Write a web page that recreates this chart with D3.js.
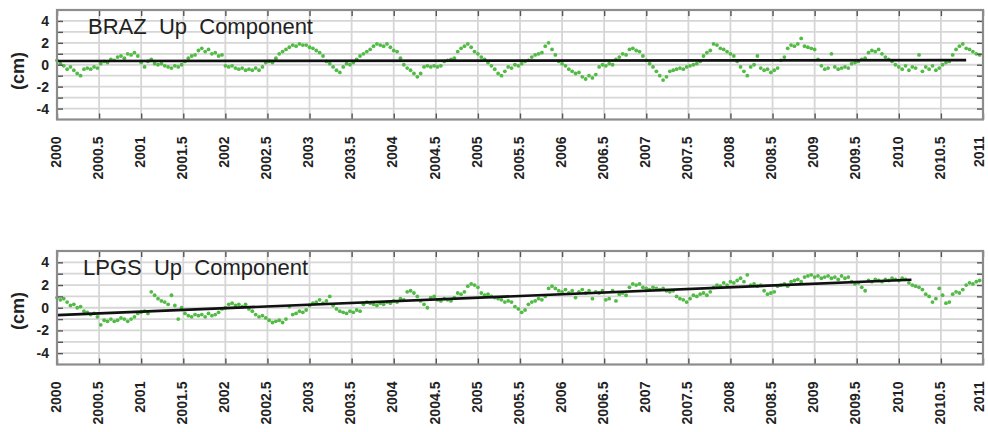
<!DOCTYPE html>
<html>
<head>
<meta charset="utf-8">
<script src="https://cdn.jsdelivr.net/npm/d3@7/dist/d3.min.js"></script>
<style>
  body { margin: 0; background: #fff; }
  svg { display: block; }
</style>
</head>
<body>
<svg id="chart" width="988" height="432"></svg>
<script>
// Epoch tick labels along the time axis (years)
const epochTicks = [2000, 2000.5, 2001, 2001.5, 2002, 2002.5, 2003, 2003.5, 2004, 2004.5,
  2005, 2005.5, 2006, 2006.5, 2007, 2007.5, 2008, 2008.5, 2009, 2009.5, 2010, 2010.5, 2011];
const epochLabels = ["2000", "2000.5", "2001", "2001.5", "2002", "2002.5", "2003", "2003.5",
  "2004", "2004.5", "2005", "2005.5", "2006", "2006.5", "2007", "2007.5", "2008", "2008.5",
  "2009", "2009.5", "2010", "2010.5", "2011"];
// Vertical axis (cm): labelled ticks and minor ticks
const cmLabelTicks = [4, 2, 0, -2, -4];
const cmMinorTicks = [-4, -3, -2, -1, 0, 1, 2, 3, 4];

// Daily solutions resampled every 0.04 yr starting at 2000.0 (25 samples per year)
const sampleStart = 2000;
const sampleStep = 0.04;

// BRAZ up component (cm)
const brazUp = [
  0.4, 0.1, -0.1, -0.4, -0.2, -0.5, -0.8, -1.0, -0.4, -0.3, -0.4, -0.2, -0.3, 0.1, 0.3, 0.2, 0.5, 0.4, 0.7, 0.8, 0.6, 1.0, 0.9, 1.1, 0.8,
  0.2, -0.2, 0.3, 0.5, 0.1, 0.0, 0.1, -0.1, -0.2, -0.3, -0.1, -0.2, 0.0, 0.3, 0.6, 0.8, 0.9, 1.3, 1.5, 1.2, 1.4, 1.0, 1.1, 0.8, 0.9,
  -0.1, -0.2, -0.1, -0.3, -0.4, -0.3, -0.5, -0.4, -0.5, -0.3, -0.5, -0.2, 0.2, 0.3, 0.2, 0.6, 1.0, 1.2, 1.4, 1.6, 1.8, 1.7, 1.9, 1.8, 1.8,
  1.6, 1.5, 1.3, 1.1, 0.8, 0.3, 0.1, -0.2, -0.5, -0.7, -0.2, 0.1, 0.0, 0.2, 0.5, 0.8, 1.0, 1.2, 1.4, 1.7, 1.9, 1.8, 1.7, 1.9, 1.6,
  1.3, 1.2, 0.6, 0.0, -0.3, -0.5, -0.8, -1.1, -0.8, -0.2, -0.1, -0.2, -0.1, -0.2, -0.1, 0.3, 0.4, 0.5, 0.6, 1.2, 1.5, 1.7, 1.9, 1.6, 1.2,
  1.0, 0.7, 0.5, 0.2, -0.1, -0.4, -0.8, -1.0, -0.6, -0.2, -0.3, 0.0, -0.1, 0.1, 0.3, 0.4, 0.7, 0.9, 1.0, 1.1, 1.7, 2.0, 1.4, 0.9, 0.3,
  0.1, -0.1, -0.4, -0.6, -0.8, -0.7, -1.1, -1.3, -1.0, -1.2, -0.9, -0.2, 0.0, -0.1, 0.1, 0.0, 0.5, 0.7, 1.0, 0.9, 1.4, 1.5, 1.3, 1.2, 0.8,
  0.4, 0.1, -0.2, -0.6, -1.0, -1.4, -1.1, -0.6, -0.5, -0.4, -0.3, -0.4, -0.2, -0.1, 0.0, 0.1, 0.3, 0.8, 1.1, 1.3, 1.9, 1.8, 1.5, 1.4, 1.2,
  1.0, 0.8, 0.3, -0.2, -0.6, -1.0, -0.2, 0.0, 0.8, -0.3, -0.5, -0.4, -0.7, -0.5, -0.3, 0.4, 0.7, 1.5, 1.8, 1.7, 1.9, 2.4, 1.7, 1.6, 1.5,
  1.4, 0.5, -0.1, -0.4, -0.3, 1.0, -0.2, -0.4, -0.3, -0.2, -0.3, 0.1, 0.2, 0.3, 0.5, 0.6, 1.1, 1.3, 1.2, 1.4, 1.0, 0.7, 0.5, 0.3, 0.0,
  -0.2, -0.4, -0.1, -0.5, -0.2, -0.3, 0.9, -0.6, -0.2, -0.4, -0.1, -0.5, -0.3, 0.0, 0.2, 0.3, 0.9, 1.4, 1.7, 1.9, 1.5, 1.4, 1.2, 1.0, 0.9
];

// LPGS up component (cm)
const lpgsUp = [
  0.9, 0.7, 0.8, 0.5, 0.2, 0.3, 0.0, 0.1, -0.3, -0.4, -0.6, -0.5, -0.8, -1.5, -1.1, -1.2, -1.0, -1.2, -1.1, -0.9, -1.0, -1.2, -1.0, -0.8, -0.5,
  -0.4, -0.3, -0.5, 1.4, 1.1, 0.8, 0.6, 0.5, 0.3, 1.1, 0.2, -1.0, 0.0, -0.5, -0.7, -0.8, -0.6, -0.7, -0.6, -0.8, -0.5, -0.7, -0.6, -0.4, -0.1,
  0.0, 0.3, 0.4, 0.2, 0.3, 0.1, 0.3, -0.1, -0.3, -0.6, -0.8, -0.7, -0.9, -1.1, -1.3, -1.2, -1.1, -1.3, -1.0, 0.1, -0.6, -0.5, -0.3, -0.4, -0.2,
  0.2, 0.4, 0.5, 0.7, 0.4, 0.6, 1.0, 0.2, -0.1, -0.3, -0.4, -0.5, -0.3, -0.4, -0.2, -0.3, 0.3, 0.5, 0.4, 0.3, 0.2, 0.4, 0.3, 0.5, 0.4,
  0.6, 0.5, 0.8, 0.7, 1.4, 1.5, 1.3, 1.0, 0.6, 0.3, 0.0, 0.9, 1.0, 0.7, 0.6, 0.8, 0.7, 0.6, 0.9, 1.3, 1.2, 1.4, 1.9, 2.1, 2.0,
  1.8, 1.3, 1.1, 1.2, 1.0, 0.9, 0.8, 0.7, 0.5, 0.6, 0.5, 0.1, -0.1, -0.4, -0.2, 0.3, 0.5, 0.6, 0.8, 0.7, 1.0, 1.7, 1.9, 1.7, 1.5,
  1.4, 1.6, 1.3, 1.5, 0.9, 1.4, 1.6, 1.3, 1.5, 0.8, 1.4, 1.3, 1.5, 0.7, 0.8, 1.5, 0.6, 1.2, 1.3, 1.1, 1.8, 2.1, 2.0, 2.1, 1.8,
  1.7, 1.6, 1.8, 1.7, 1.6, 1.7, 1.5, 1.4, 1.5, 1.0, 0.8, 0.7, 0.5, 0.8, 1.1, 1.0, 1.2, 1.3, 1.1, 1.4, 1.8, 2.0, 1.9, 2.2, 2.0,
  2.3, 2.2, 2.4, 2.6, 2.3, 2.9, 2.0, 2.1, 1.9, 2.0, 1.5, 1.2, 1.3, 1.4, 1.9, 2.0, 2.1, 1.9, 2.3, 2.4, 2.5, 2.3, 2.7, 2.8, 2.9,
  2.7, 2.8, 2.6, 2.7, 2.8, 2.6, 2.7, 2.5, 2.8, 2.6, 2.7, 2.3, 2.1, 2.2, 1.8, 1.5, 2.4, 2.3, 2.5, 2.4, 2.3, 2.5, 2.4, 2.6, 2.5,
  2.4, 2.6, 2.5, 2.2, 2.0, 1.9, 1.8, 1.6, 1.2, 1.0, 0.5, 0.8, 1.7, 1.1, 0.4, 0.5, 1.2, 1.4, 1.3, 1.6, 2.0, 2.2, 2.1, 2.3, 2.4
];

// Fitted linear trends: endpoints (year, cm)
const brazTrendYears = [2000, 2010.8];
const brazTrendCm = [0.34, 0.42];
const lpgsTrendYears = [2000, 2010.15];
const lpgsTrendCm = [-0.65, 2.47];

const svg = d3.select("#chart");
const font = "'Liberation Sans', Arial, sans-serif";
const dotColor = "#52bb45";

const panels = [
  { title: "BRAZ  Up  Component", values: brazUp, trendT: brazTrendYears, trendV: brazTrendCm,
    top: 10, bottom: 119.5, titleX: 88, cmY: 71 },
  { title: "LPGS  Up  Component", values: lpgsUp, trendT: lpgsTrendYears, trendV: lpgsTrendCm,
    top: 251, bottom: 364.5, titleX: 83, cmY: 311 }
];

const left = 57, right = 983;
const x = d3.scaleLinear().domain([2000, 2011]).range([left, right]);

panels.forEach(p => {
  const y = d3.scaleLinear().domain([-5, 5]).range([p.bottom, p.top]);
  const g = svg.append("g");

  // grid
  const grid = g.append("g").attr("stroke", "#d6d6d6").attr("stroke-width", 1.8);
  grid.selectAll("line.v").data(epochTicks.slice(1, -1)).join("line")
    .attr("x1", d => x(d)).attr("x2", d => x(d))
    .attr("y1", p.top).attr("y2", p.bottom);
  grid.selectAll("line.h").data(cmMinorTicks).join("line")
    .attr("x1", left).attr("x2", right)
    .attr("y1", d => y(d)).attr("y2", d => y(d));

  // observations
  const pts = p.values.map((v, i) => ({ t: sampleStart + i * sampleStep, v }));
  g.append("g").selectAll("circle").data(pts).join("circle")
    .attr("cx", d => x(d.t)).attr("cy", d => y(d.v))
    .attr("r", 1.9).attr("fill", dotColor);

  // trend line
  const line = d3.line().x(d => x(d[0])).y(d => y(d[1]));
  g.append("path")
    .datum(p.trendT.map((t, i) => [t, p.trendV[i]]))
    .attr("d", line).attr("fill", "none")
    .attr("stroke", "#111").attr("stroke-width", 2.6);

  // axes with inward ticks
  const tickStyle = sel => {
    sel.select(".domain").remove();
    sel.selectAll(".tick line").attr("stroke", "#555").attr("stroke-width", 1.4);
  };
  g.append("g").attr("transform", `translate(0,${p.top})`)
    .call(d3.axisTop(x).tickValues(epochTicks).tickSize(-6).tickFormat(""))
    .call(tickStyle);
  g.append("g").attr("transform", `translate(${right},0)`)
    .call(d3.axisRight(y).tickValues(cmMinorTicks).tickSize(-6).tickFormat(""))
    .call(tickStyle);
  const xb = g.append("g").attr("transform", `translate(0,${p.bottom})`)
    .call(d3.axisBottom(x).tickValues(epochTicks).tickSize(-6)
      .tickFormat((d, i) => epochLabels[i]))
    .call(tickStyle);
  const lastTick = epochTicks[epochTicks.length - 1];
  xb.selectAll(".tick text")
    .attr("font-family", font).attr("font-size", 14.5).attr("font-weight", "bold")
    .attr("fill", "#222")
    .attr("text-anchor", "end")
    .attr("x", 0).attr("y", 0).attr("dy", "0.36em")
    // the final label is nudged inward so it stays inside the page edge
    .attr("transform", d => `translate(${d === lastTick ? -5 : -2},17) rotate(-90) scale(0.97,1)`);
  const yl = g.append("g").attr("transform", `translate(${left},0)`)
    .call(d3.axisLeft(y).tickValues(cmMinorTicks).tickSize(-6).tickPadding(8)
      .tickFormat(d => cmLabelTicks.includes(d) ? String(d) : ""))
    .call(tickStyle);
  yl.selectAll(".tick text")
    .attr("font-family", font).attr("font-size", 14).attr("font-weight", "bold")
    .attr("fill", "#222");

  // frame
  g.append("rect")
    .attr("x", left).attr("y", p.top)
    .attr("width", right - left).attr("height", p.bottom - p.top)
    .attr("fill", "none").attr("stroke", "#8c8c8c").attr("stroke-width", 2.2);

  // title
  g.append("text")
    .attr("x", p.titleX).attr("y", p.top + 23.5)
    .style("white-space", "pre")
    .attr("font-family", font).attr("font-size", 22).attr("fill", "#222")
    .text(p.title);

  // unit label
  g.append("text")
    .attr("transform", `translate(24,${p.cmY}) rotate(-90)`)
    .attr("text-anchor", "middle")
    .attr("font-family", font).attr("font-size", 18).attr("font-weight", "bold")
    .attr("fill", "#222")
    .text("(cm)");
});
</script>
</body>
</html>
